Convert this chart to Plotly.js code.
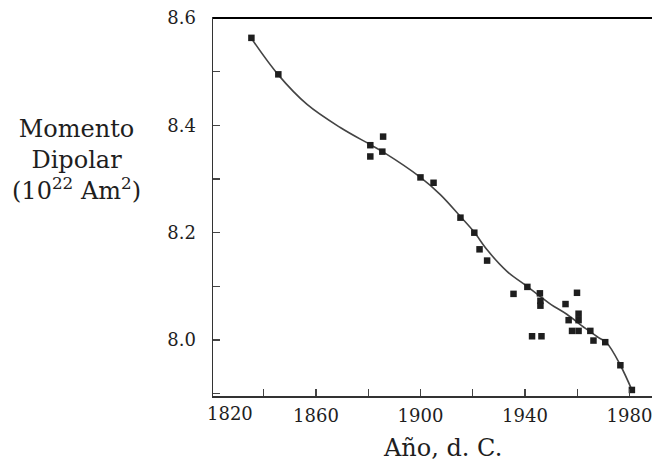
<!DOCTYPE html>
<html>
<head>
<meta charset="utf-8">
<script src="https://cdn.plot.ly/plotly-3.0.1.min.js"></script>
<style>html,body{margin:0;padding:0;background:#fff;overflow:hidden;}#chart{width:652px;height:467px;}</style>
</head>
<body>
<div id="chart"></div>
<script>
// Observed data points (year, dipole moment 10^22 Am^2)
const years = [1835.3, 1845.6, 1880.8, 1880.8, 1885.7, 1885.4, 1900.0, 1905.0, 1915.3, 1920.6, 1922.6, 1925.5, 1935.6, 1940.9, 1945.7, 1945.9, 1945.9, 1942.7, 1946.3, 1955.5, 1959.9, 1960.5, 1960.5, 1956.7, 1958.0, 1960.5, 1965.0, 1966.2, 1970.7, 1976.5, 1980.9];
const moments = [8.563, 8.495, 8.363, 8.342, 8.379, 8.351, 8.303, 8.293, 8.228, 8.200, 8.169, 8.148, 8.086, 8.099, 8.087, 8.073, 8.064, 8.007, 8.007, 8.067, 8.088, 8.049, 8.037, 8.037, 8.017, 8.017, 8.017, 7.999, 7.996, 7.953, 7.907];

// Fitted curve
const curveYears = [1835, 1845.6, 1856.6, 1869.3, 1880.8, 1885.8, 1900, 1907.6, 1915.3, 1920.4, 1925.5, 1933.1, 1940.8, 1945.9, 1950, 1956, 1963, 1968, 1971.4, 1976.5, 1980.9];
const curveMoments = [8.564, 8.494, 8.439, 8.396, 8.364, 8.350, 8.303, 8.271, 8.230, 8.202, 8.168, 8.128, 8.100, 8.081, 8.066, 8.048, 8.022, 8.005, 7.994, 7.953, 7.907];

const yTitle = 'Momento<br>Dipolar<br>(10<sup>22</sup> Am<sup>2</sup>)';
const xTitle = 'Año, d. C.';
const firstXLabel = '1820';

const font = 'DejaVu Serif, serif';
const ink = '#1e1e1e';

const traces = [
  {x: curveYears, y: curveMoments, mode: 'lines', type: 'scatter',
   line: {color: '#444', width: 1.6, shape: 'spline', smoothing: 1}, hoverinfo: 'skip'},
  {x: years, y: moments, mode: 'markers', type: 'scatter',
   marker: {symbol: 'square', size: 6.5, color: ink}}
];

const layout = {
  width: 652, height: 467,
  margin: {l: 213, r: 0, t: 18, b: 71, pad: 0},
  paper_bgcolor: '#fff', plot_bgcolor: '#fff',
  showlegend: false,
  font: {family: font, color: ink, size: 18},
  xaxis: {
    range: [1820.6, 1988.6], tick0: 1820, dtick: 40,
    ticks: 'inside', ticklen: 7, tickwidth: 1.2, tickcolor: '#444',
    minor: {dtick: 20, tick0: 1820, ticks: 'inside', ticklen: 7, tickwidth: 1.2, tickcolor: '#444'},
    showline: true, linecolor: '#333', linewidth: 1.5, mirror: true,
    showgrid: false, zeroline: false,
    tickfont: {family: font, size: 18, color: ink},
    ticklabelstandoff: 3, ticklabeloverflow: 'allow'
  },
  yaxis: {
    range: [7.8957, 8.6], tick0: 8.0, dtick: 0.2, tickformat: '.1f',
    ticks: 'inside', ticklen: 7, tickwidth: 1.2, tickcolor: '#444',
    minor: {dtick: 0.1, tick0: 8.0, ticks: 'inside', ticklen: 7, tickwidth: 1.2, tickcolor: '#444'},
    showline: true, linecolor: '#333', linewidth: 1.5, mirror: false,
    showgrid: false, zeroline: false,
    tickfont: {family: font, size: 18, color: ink},
    ticklabelstandoff: 12
  },
  shapes: [
    {type: 'line', layer: 'above', xref: 'paper', yref: 'paper', x0: 0, x1: 1, y0: 1, y1: 1,
     line: {color: 'black', width: 2}}
  ],
  annotations: [
    {text: yTitle, xref: 'paper', yref: 'paper', x: -0.312, y: 0.625,
     xanchor: 'center', yanchor: 'middle', showarrow: false, align: 'center',
     font: {family: font, size: 24, color: ink}},
    {text: firstXLabel, xref: 'paper', yref: 'paper', x: 0.039, y: 0,
     xanchor: 'center', yanchor: 'top', yshift: -5, showarrow: false,
     font: {family: font, size: 18, color: ink}},
    {text: xTitle, xref: 'paper', yref: 'paper', x: 0.522, y: 0,
     xanchor: 'center', yanchor: 'middle', yshift: -52, showarrow: false,
     font: {family: font, size: 24, color: ink}}
  ]
};

Plotly.newPlot('chart', traces, layout, {displayModeBar: false, staticPlot: true});
</script>
</body>
</html>
